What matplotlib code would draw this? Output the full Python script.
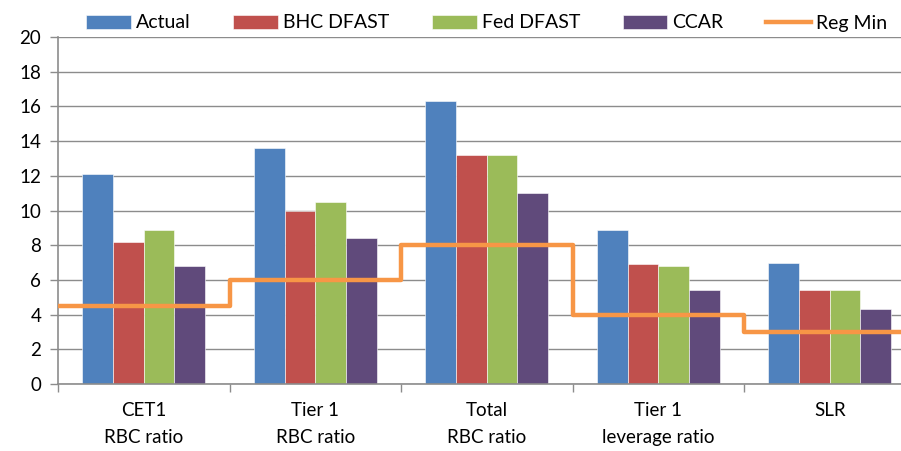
import numpy as np
import matplotlib.pyplot as plt

plt.rcParams['font.family'] = ['Lato', 'DejaVu Sans']

categories = ['CET1\nRBC ratio', 'Tier 1\nRBC ratio', 'Total\nRBC ratio',
              'Tier 1\nleverage ratio', 'SLR']
actual = [12.1, 13.6, 16.3, 8.9, 7.0]
bhc_dfast = [8.2, 10.0, 13.2, 6.9, 5.4]
fed_dfast = [8.9, 10.5, 13.2, 6.8, 5.4]
ccar = [6.8, 8.4, 11.0, 5.4, 4.3]
reg_min = [4.5, 6.0, 8.0, 4.0, 3.0]

series = [('Actual', actual, '#4F81BD'),
          ('BHC DFAST', bhc_dfast, '#C0504D'),
          ('Fed DFAST', fed_dfast, '#9BBB59'),
          ('CCAR', ccar, '#604A7B')]

fig = plt.figure(figsize=(9.01, 4.51), dpi=100)
ax = fig.add_axes([58 / 901, 1 - 384 / 451, 857.5 / 901, 347 / 451])

x = np.arange(len(categories))
w = 0.179
handles = []
for i, (name, vals, col) in enumerate(series):
    b = ax.bar(x + (i - 1.5) * w, vals, w, color=col, label=name,
               edgecolor='white', linewidth=0.4, zorder=2)
    handles.append(b)

# regulatory minimum as a step across each category
edges = np.arange(len(categories) + 1) - 0.5
line, = ax.plot(edges, reg_min + [reg_min[-1]], drawstyle='steps-post',
                color='#F79646', lw=3.2, label='Reg Min', zorder=3)
handles.append(line)

ax.set_xlim(-0.5, len(categories) - 0.5)
ax.set_ylim(0, 20)
ax.set_yticks(range(0, 21, 2))
ax.yaxis.grid(True, color='#8C8C8C', lw=1.0, zorder=0)
ax.set_axisbelow(True)

ax.set_xticks(x)
ax.set_xticklabels(categories, linespacing=1.7)
ax.set_xticks(edges, minor=True)
ax.tick_params(axis='x', which='major', length=0, pad=13, labelsize=13.5)
ax.tick_params(axis='x', which='minor', length=6, color='#8C8C8C', width=1)
ax.tick_params(axis='y', length=6, color='#8C8C8C', width=1, labelsize=13.5, pad=6)

for s in ['top', 'right']:
    ax.spines[s].set_visible(False)
for s in ['left', 'bottom']:
    ax.spines[s].set_color('#8C8C8C')
    ax.spines[s].set_linewidth(1.2)

fig.legend(handles=handles, labels=[h.get_label() for h in handles],
           loc='center', bbox_to_anchor=(0.540, 1 - 23 / 451), ncol=5,
           frameon=False, fontsize=14, handlelength=2.3, handleheight=0.7,
           columnspacing=2.2, handletextpad=0.25, borderaxespad=0)

fig.savefig('out.png', dpi=100)
